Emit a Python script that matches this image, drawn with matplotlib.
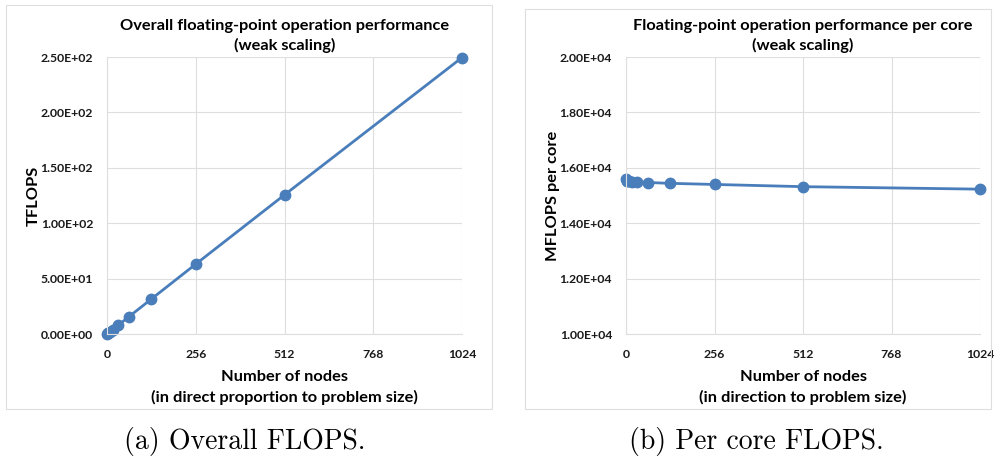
import matplotlib
matplotlib.use("Agg")
import matplotlib.pyplot as plt
from matplotlib.patches import Rectangle
from matplotlib.ticker import FuncFormatter

# data
nodes = [1, 2, 4, 8, 16, 32, 64, 128, 256, 512, 1024]
tflops = [0.249, 0.497, 0.993, 1.98, 3.96, 7.92, 15.8, 31.6, 63.1, 125.6, 249.5]
mflops_core = [15600, 15530, 15520, 15510, 15500, 15490, 15470, 15440, 15400, 15320, 15230]

xticks = [0, 256, 512, 768, 1024]
yticks_a = [0, 50, 100, 150, 200, 250]
yticks_b = [10000, 12000, 14000, 16000, 18000, 20000]

blue = '#4A7EBB'
grid_c = '#DEDEDE'
sans = ['Lato', 'DejaVu Sans']

fig = plt.figure(figsize=(10, 4.57), dpi=100)

# panel frames
fig.patches.append(Rectangle((0.006, 0.105), 0.486, 0.884, transform=fig.transFigure,
                             fill=False, edgecolor=grid_c, lw=0.8))
fig.patches.append(Rectangle((0.525, 0.105), 0.466, 0.876, transform=fig.transFigure,
                             fill=False, edgecolor=grid_c, lw=0.8))


def sci(v, pos):
    return '%.2E' % v


def setup(ax, yticks, title, ylabel, xlabel):
    ax.set_xlim(0, 1024)
    ax.set_ylim(yticks[0], yticks[-1])
    ax.set_xticks(xticks)
    ax.set_yticks(yticks)
    ax.yaxis.set_major_formatter(FuncFormatter(sci))
    ax.grid(True, color=grid_c, lw=0.8)
    ax.set_axisbelow(True)
    for s in ax.spines.values():
        s.set_visible(False)
    ax.spines['bottom'].set_visible(True)
    ax.spines['bottom'].set_color(grid_c)
    ax.spines['left'].set_visible(True)
    ax.spines['left'].set_color(grid_c)
    ax.tick_params(length=0, labelsize=8.8, pad=10, colors='#1a1a1a')
    ax.tick_params(axis='x', pad=11)
    for lab in ax.get_xticklabels() + ax.get_yticklabels():
        lab.set_fontfamily(sans)
        lab.set_fontweight('bold')
    ax.set_title(title, fontfamily=sans, fontweight='bold', fontsize=11.8, pad=5,
                 linespacing=1.45)
    ax.set_ylabel(ylabel, fontfamily=sans, fontweight='bold', fontsize=11.8, labelpad=0)
    ax.set_xlabel(xlabel, fontfamily=sans, fontweight='bold', fontsize=11.8, labelpad=7,
                  linespacing=1.5)


ax1 = fig.add_axes([0.107, 0.2691, 0.355, 0.6061])
ax1.plot(nodes, tflops, color=blue, lw=2, marker='o', ms=7.5, clip_on=False)
setup(ax1, yticks_a, 'Overall floating-point operation performance\n(weak scaling)',
      'TFLOPS', 'Number of nodes\n(in direct proportion to problem size)')

ax2 = fig.add_axes([0.626, 0.2691, 0.354, 0.6061])
ax2.plot(nodes, mflops_core, color=blue, lw=2, marker='o', ms=7.5, clip_on=False)
setup(ax2, yticks_b, 'Floating-point operation performance per core\n(weak scaling)',
      'MFLOPS per core', 'Number of nodes\n(in direction to problem size)')

fig.text(0.245, 0.034, '(a) Overall FLOPS.', family='cmr10', fontsize=20,
         ha='center', va='center')
fig.text(0.756, 0.034, '(b) Per core FLOPS.', family='cmr10', fontsize=20,
         ha='center', va='center')

fig.savefig('out.png', dpi=100)
